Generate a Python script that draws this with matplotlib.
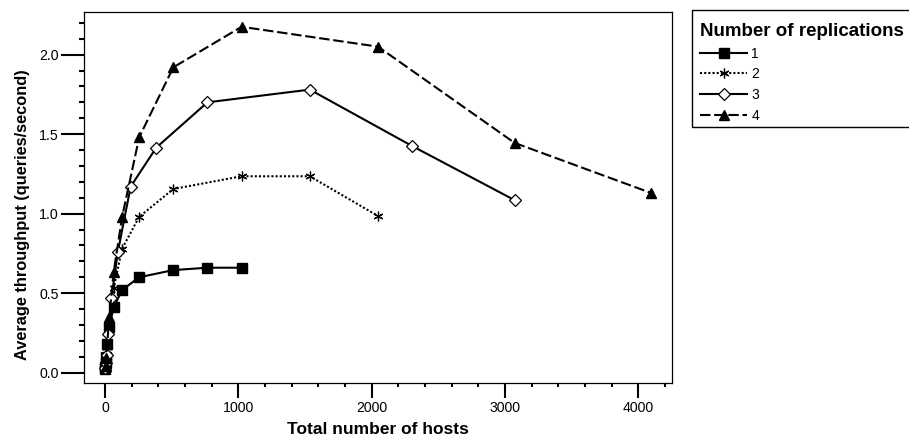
import matplotlib
matplotlib.use("Agg")
import matplotlib.pyplot as plt
from matplotlib.patches import Rectangle
from matplotlib.ticker import MultipleLocator

plt.rcParams['font.family'] = ['Liberation Sans', 'DejaVu Sans']

# data (hosts = replications x base count)
hosts_1 = [1, 2, 4, 8, 16, 32, 64, 128, 256, 512, 768, 1024]
thr_1 = [0.02, 0.035, 0.06, 0.10, 0.18, 0.29, 0.41, 0.52, 0.60, 0.645, 0.66, 0.66]

hosts_2 = [2, 4, 8, 16, 32, 64, 128, 256, 512, 1024, 1536, 2048]
thr_2 = [0.03, 0.05, 0.09, 0.16, 0.28, 0.53, 0.78, 0.98, 1.155, 1.235, 1.235, 0.985]

hosts_3 = [3, 6, 12, 24, 48, 96, 192, 384, 768, 1536, 2304, 3072]
thr_3 = [0.03, 0.06, 0.11, 0.24, 0.47, 0.76, 1.17, 1.415, 1.70, 1.78, 1.425, 1.085]

hosts_4 = [4, 8, 16, 32, 64, 128, 256, 512, 1024, 2048, 3072, 4096]
thr_4 = [0.04, 0.09, 0.18, 0.35, 0.63, 0.98, 1.48, 1.92, 2.175, 2.05, 1.445, 1.13]

labels = ["1", "2", "3", "4"]

W, H = 909, 440
fig = plt.figure(figsize=(W / 100, H / 100), dpi=100)
ax = fig.add_axes([84 / W, 1 - 383 / H, 588 / W, 371 / H])

lw = 1.5
ax.plot(hosts_1, thr_1, color="black", lw=lw, ls="-", marker="s",
        ms=7, mfc="black", mec="black", label=labels[0])
ax.plot(hosts_2, thr_2, color="black", lw=lw, ls=(0, (1, 1)), marker=(6, 2, 0),
        ms=7, mec="black", mew=0.9, label=labels[1])
ax.plot(hosts_3, thr_3, color="black", lw=lw, ls="-", marker="D",
        ms=6, mfc="white", mec="black", mew=0.9, label=labels[2])
ax.plot(hosts_4, thr_4, color="black", lw=lw, ls=(0, (5, 1.8)), marker="^",
        ms=7.5, mfc="black", mec="black", label=labels[3])

ax.set_xlim(-158, 4253)
ax.set_ylim(-0.065, 2.268)

ax.xaxis.set_major_locator(MultipleLocator(1000))
ax.xaxis.set_minor_locator(MultipleLocator(200))
ax.yaxis.set_major_locator(MultipleLocator(0.5))
ax.yaxis.set_minor_locator(MultipleLocator(0.1))
ax.yaxis.set_major_formatter(plt.FuncFormatter(lambda v, p: f"{v:.1f}"))

ax.tick_params(axis="y", which="major", direction="out", length=16.5, width=1.5,
               pad=1.5, labelsize=10.2)
ax.tick_params(axis="y", which="minor", direction="out", length=3.6, width=1.5)
ax.tick_params(axis="x", which="major", direction="out", length=10.8, width=1.5,
               pad=2.5, labelsize=10.2)
ax.tick_params(axis="x", which="minor", direction="out", length=3, width=1.5)

for s in ax.spines.values():
    s.set_linewidth(0.9)

ax.set_xlabel("Total number of hosts", fontsize=12.5, fontweight="bold", labelpad=5)
ax.set_ylabel("Average throughput (queries/second)", fontsize=11.8,
              fontweight="bold")
ax.yaxis.set_label_coords(-0.091, 0.455)

# legend box sits outside the axes and runs past the right edge
fig.add_artist(Rectangle((691.5 / W, 1 - 127 / H), 230 / W, 117 / H,
                         transform=fig.transFigure, fill=False, lw=1.0,
                         ec="black"))
leg = fig.legend(loc="upper left", bbox_to_anchor=(700 / W, 1 - 23 / H),
                 title="Number of replications", fontsize=10,
                 title_fontproperties={"weight": "bold", "size": 13.5},
                 frameon=False, handlelength=3.4, handletextpad=0.3,
                 labelspacing=0.48, borderpad=0, borderaxespad=0,
                 alignment="left")

fig.savefig("out.png", dpi=100)
